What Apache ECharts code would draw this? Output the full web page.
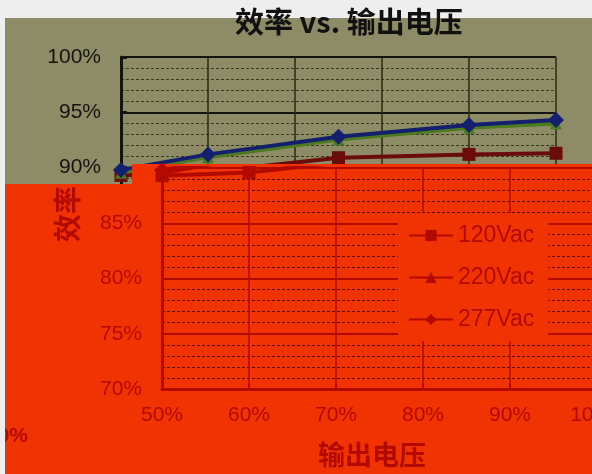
<!DOCTYPE html>
<html>
<head>
<meta charset="utf-8">
<script src="https://cdn.jsdelivr.net/npm/echarts@6/dist/echarts.min.js"></script>
<style>html,body{margin:0;padding:0;background:#eeeeee;}#c{width:592px;height:474px;}</style>
</head>
<body>
<div id="c"></div>
<script>
// ---- data ----
const chartTitle = '效率 vs. 输出电压';
const xAxisTitle = '输出电压';
const yAxisTitle = '效率';
const seriesNames = ['120Vac', '220Vac', '277Vac'];
const loadPct = [50, 60, 75, 90, 100];
const eff120 = [89.3, 89.6, 90.9, 91.2, 91.3];
const eff220 = [89.55, 90.95, 92.55, 93.6, 94.0];
const eff277 = [89.8, 91.2, 92.8, 93.85, 94.3];
const strayLabel = '90%';

// ---- styling ----
const OLIVE = '#8e8c66', RED = '#f03300', DRED = '#b30a00', INK = '#141410';
const pairs = arr => loadPct.map((x, i) => [x, arr[i]]);
const effs = [eff120, eff220, eff277];
const symbols = ['rect', 'triangle', 'diamond'];
const symSizes = [13, 12, 16];
const oliveColors = ['#6a0c0c', '#4b7a1f', '#14206e'];
const pctFmt = v => (Math.abs(v % 5) < 1e-6 ? v + '%' : '');

const redSeries = seriesNames.map((n, i) => ({
  name: n, type: 'line', xAxisIndex: 1, yAxisIndex: 1, data: pairs(effs[i]),
  symbol: symbols[i], symbolSize: symSizes[i], clip: true, z: 7 + i * 0.1,
  itemStyle: { color: DRED }, lineStyle: { color: DRED, width: 4 }
}));
const oliveSeries = seriesNames.map((n, i) => ({
  name: n, type: 'line', xAxisIndex: 0, yAxisIndex: 0, data: pairs(effs[i]),
  symbol: symbols[i], symbolSize: symSizes[i], z: 3 + i * 0.1,
  itemStyle: { color: oliveColors[i] }, lineStyle: { color: oliveColors[i], width: 4 }
}));

const chart = echarts.init(document.getElementById('c'));
chart.setOption({
  backgroundColor: '#eeeeee',
  animation: false,
  title: {
    text: chartTitle, left: 230, top: 2, z: 40,
    textStyle: { fontFamily: 'Noto Sans CJK SC', fontWeight: 'bold', fontSize: 29, color: '#111' }
  },
  legend: {
    data: seriesNames, orient: 'vertical', left: 398, top: 213, z: 9,
    padding: [11, 14, 10, 10], itemGap: 19, itemWidth: 44, itemHeight: 14,
    backgroundColor: RED,
    textStyle: { fontFamily: 'Liberation Sans', fontSize: 23, color: DRED }
  },
  grid: [
    { left: 121, top: 57, width: 435, height: 166, outerBoundsMode: 'none' },
    { left: 162, top: 168, width: 435, height: 221, outerBoundsMode: 'none' }
  ],
  xAxis: [
    { type: 'value', gridIndex: 0, min: 50, max: 100, interval: 10, z: 2,
      axisLine: { show: false }, axisTick: { show: false }, axisLabel: { show: false },
      splitLine: { show: true, lineStyle: { color: '#2a2a16', width: 1.5 } } },
    { type: 'value', gridIndex: 1, min: 50, max: 100, interval: 10, z: 6,
      name: xAxisTitle, nameLocation: 'middle', nameGap: 52,
      nameTextStyle: { fontFamily: 'Noto Sans CJK SC', fontWeight: 'bold', fontSize: 27, color: DRED, padding: [0, 15, 0, 0] },
      axisLine: { show: true, onZero: false, lineStyle: { color: DRED, width: 3 } },
      axisTick: { show: true, inside: true, length: 5, lineStyle: { color: DRED, width: 2 } },
      axisLabel: { margin: 16, formatter: '{value}%', fontFamily: 'Liberation Sans', fontSize: 21, color: DRED },
      splitLine: { show: true, lineStyle: { color: DRED, width: 1.5 } } }
  ],
  yAxis: [
    { type: 'value', gridIndex: 0, min: 85, max: 100, interval: 5, z: 2,
      axisLine: { show: true, lineStyle: { color: INK, width: 3 } },
      axisTick: { show: true, inside: true, length: 6, lineStyle: { color: INK, width: 3 } },
      axisLabel: { margin: 20, formatter: pctFmt, fontFamily: 'Liberation Sans', fontSize: 21, color: INK },
      splitLine: { show: true, lineStyle: { color: INK, width: 2 } },
      minorTick: { show: false, splitNumber: 5 },
      minorSplitLine: { show: true, lineStyle: { color: '#3a3a22', width: 1, type: [3, 2] } } },
    { type: 'value', gridIndex: 1, min: 70, max: 90, interval: 5, z: 6,
      axisLine: { show: true, onZero: false, lineStyle: { color: DRED, width: 3 } },
      axisTick: { show: true, inside: true, length: 6, lineStyle: { color: DRED, width: 2 } },
      axisLabel: { margin: 20, formatter: v => (v >= 90 ? '' : v + '%'), fontFamily: 'Liberation Sans', fontSize: 21, color: DRED },
      splitLine: { show: true, lineStyle: { color: DRED, width: 2 } },
      minorTick: { show: false, splitNumber: 5 },
      minorSplitLine: { show: true, lineStyle: { color: '#5a0800', width: 1, type: [3, 2] } } }
  ],
  graphic: [
    { type: 'rect', z: 1, shape: { x: 5, y: 18, width: 587, height: 456 }, style: { fill: OLIVE } },
    { type: 'polygon', z: 5, shape: { points: [[5, 184], [132, 184], [132, 164], [592, 164], [592, 474], [5, 474]] }, style: { fill: RED } },
    { type: 'text', z: 10, x: 67, y: 214, rotation: Math.PI / 2,
      style: { text: yAxisTitle, align: 'center', verticalAlign: 'middle', fill: DRED, font: 'bold 28px "Noto Sans CJK SC"' } },
    { type: 'text', z: 10, x: 28, y: 436,
      style: { text: strayLabel, align: 'right', verticalAlign: 'middle', fill: DRED, font: 'bold 21px "Liberation Sans"' } },
    { type: 'rect', z: 30, shape: { x: 0, y: 0, width: 5, height: 474 }, style: { fill: '#eeeeee' } },
    { type: 'rect', z: 30, shape: { x: 0, y: 0, width: 592, height: 18 }, style: { fill: '#eeeeee' } }
  ],
  series: redSeries.concat(oliveSeries)
});
</script>
</body>
</html>
